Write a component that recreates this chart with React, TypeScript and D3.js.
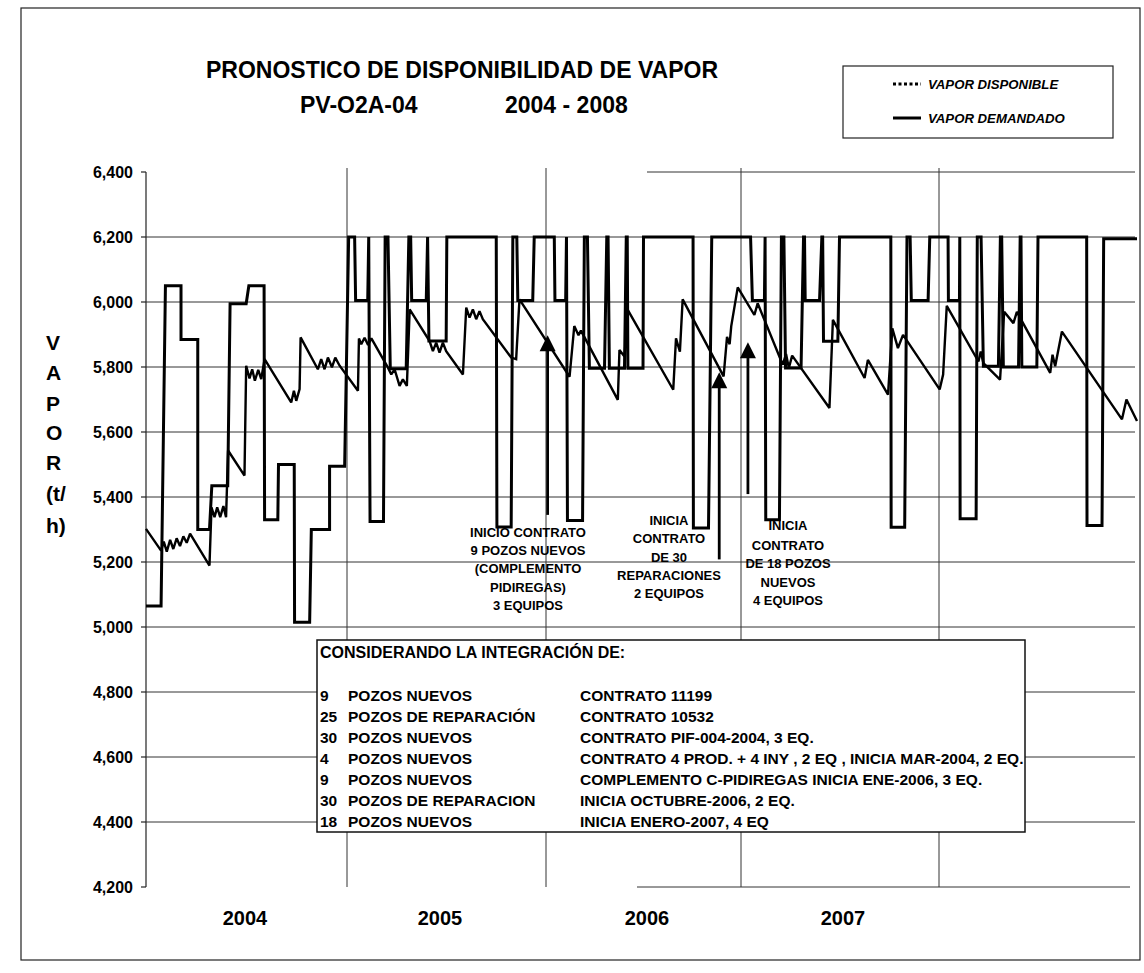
import React from 'react';
import * as d3 from 'd3';

// ---------- data ----------
const yTicks = [4200, 4400, 4600, 4800, 5000, 5200, 5400, 5600, 5800, 6000, 6200, 6400];
const yearBreaks = [0, 12, 24, 36, 48, 60]; // months since Jan-2004
const yearLabels = ['2004', '2005', '2006', '2007'];

// VAPOR DISPONIBLE  [month, t/h]
const disponible: [number, number][] = [
  [0, 5065], [0.9, 5065], [1.16, 6050], [2.09, 6050], [2.09, 5885], [3.09, 5885], [3.09, 5300], [3.79, 5300],
  [3.93, 5435], [4.88, 5435], [5.02, 5995], [5.98, 5995], [6.14, 6050], [7.05, 6050], [7.08, 5330], [7.87, 5330],
  [7.91, 5500], [8.85, 5500], [8.87, 5015], [9.77, 5015], [9.87, 5300], [10.96, 5300], [10.96, 5495], [11.86, 5495],
  [12.1, 6200], [12.46, 6200], [12.52, 6005], [13.25, 6005], [13.31, 6200], [13.39, 5325], [14.2, 5325], [14.3, 6200],
  [14.47, 6200], [14.61, 5795], [15.57, 5795], [15.73, 6200], [15.84, 6200], [15.9, 6005], [16.78, 6005], [16.86, 6200],
  [16.94, 5880], [17.98, 5880], [18.02, 6200], [21.0, 6200], [21.04, 5308], [21.9, 5308], [22.0, 6200], [22.24, 6200],
  [22.3, 6005], [23.2, 6005], [23.29, 6200], [24.51, 6200], [24.55, 6005], [25.21, 6005], [25.26, 6200], [25.32, 5328],
  [26.25, 5328], [26.36, 6200], [26.55, 6200], [26.67, 5796], [27.6, 5796], [27.74, 6200], [27.82, 6200], [27.9, 5796],
  [28.83, 5796], [28.94, 6200], [29.0, 6200], [29.04, 5796], [29.97, 5796], [30.0, 6200], [33.05, 6200], [33.07, 5305],
  [34.0, 5305], [34.2, 6200], [36.58, 6200], [36.69, 6005], [37.42, 6005], [37.46, 6200], [37.5, 5330], [38.33, 5330],
  [38.45, 6200], [38.6, 6200], [38.7, 5797], [39.64, 5797], [39.79, 6200], [39.85, 6200], [39.89, 6005], [40.76, 6005],
  [40.9, 6200], [40.95, 6200], [41.0, 5879], [41.87, 5879], [41.97, 6200], [45.08, 6200], [45.1, 5307], [45.92, 5307],
  [46.06, 6200], [46.25, 6200], [46.32, 6005], [47.34, 6005], [47.44, 6200], [48.55, 6200], [48.57, 6005], [49.24, 6005],
  [49.26, 6200], [49.28, 5333], [50.25, 5333], [50.32, 6200], [50.55, 6200], [50.69, 5802], [51.6, 5802], [51.72, 6200],
  [51.8, 6200], [51.9, 5800], [52.82, 5800], [52.92, 6200], [52.97, 6200], [53.02, 5800], [53.93, 5800], [54.0, 6200],
  [56.95, 6200], [56.97, 5312], [57.88, 5312], [57.98, 6195], [60, 6195],
];

// VAPOR DEMANDADO  [month, t/h]
const demandado: [number, number][] = [
  [0, 5302], [0.9, 5235], [1.06, 5263], [1.24, 5232], [1.44, 5268], [1.63, 5240], [1.83, 5273], [2.03, 5249],
  [2.23, 5279], [2.43, 5259], [2.63, 5287], [3.79, 5189], [3.91, 5368], [4.09, 5338], [4.25, 5368], [4.43, 5338],
  [4.62, 5372], [4.78, 5338], [4.9, 5543], [5.88, 5466], [5.98, 5804], [6.18, 5765], [6.34, 5793], [6.5, 5758],
  [6.7, 5791], [6.88, 5763], [7.08, 5824], [8.67, 5691], [8.83, 5727], [8.97, 5696], [9.17, 5732], [9.23, 5891],
  [10.26, 5793], [10.46, 5824], [10.66, 5793], [10.86, 5829], [11.1, 5799], [11.3, 5829], [11.56, 5804], [12.66, 5727],
  [12.72, 5888], [12.86, 5870], [13.06, 5890], [13.27, 5868], [13.47, 5888], [14.47, 5798], [14.67, 5777], [14.87, 5793],
  [15.17, 5742], [15.37, 5762], [15.61, 5742], [15.78, 5977], [16.98, 5880], [17.18, 5849], [17.38, 5875], [17.58, 5844],
  [17.78, 5875], [17.98, 5849], [18.99, 5777], [19.19, 5983], [19.39, 5952], [19.59, 5977], [19.79, 5947], [19.99, 5972],
  [20.19, 5947], [21.9, 5829], [22.2, 5824], [22.4, 6008], [25.45, 5770], [25.74, 5926], [26.0, 5898], [26.15, 5912],
  [28.42, 5699], [28.52, 5852], [28.83, 5832], [29.04, 5975], [31.83, 5730], [32.0, 5888], [32.24, 5847], [32.41, 6008],
  [34.93, 5771], [35.14, 5893], [35.3, 5870], [35.4, 5926], [35.8, 6045], [36.81, 5960], [37.01, 5996], [38.53, 5807],
  [38.73, 5840], [38.9, 5797], [39.1, 5835], [41.36, 5674], [41.57, 5945], [43.49, 5766], [43.69, 5822], [44.91, 5715],
  [45.17, 5919], [45.51, 5858], [45.82, 5899], [48.04, 5731], [48.25, 5777], [48.47, 5988], [50.39, 5817], [50.53, 5848],
  [50.69, 5812], [51.7, 5761], [51.95, 5970], [52.51, 5935], [52.72, 5970], [54.74, 5782], [54.88, 5838], [55.04, 5802],
  [55.45, 5909], [59.09, 5639], [59.36, 5700], [60, 5634],
];

// arrows: month, bottom value, tip value
const arrowMonths = [24.1, 34.66, 36.42];
const arrowBottoms = [5345, 5208, 5409];
const arrowTips = [5898, 5784, 5876];

const annot1 = ['INICIO CONTRATO', '9 POZOS NUEVOS', '(COMPLEMENTO', 'PIDIREGAS)', '3 EQUIPOS'];
const annot2 = ['INICIA', 'CONTRATO', 'DE 30', 'REPARACIONES', '2 EQUIPOS'];
const annot3 = ['INICIA', 'CONTRATO', 'DE 18 POZOS', 'NUEVOS', '4 EQUIPOS'];

const boxTitle = 'CONSIDERANDO LA INTEGRACIÓN DE:';
const boxNums = ['9', '25', '30', '4', '9', '30', '18'];
const boxKinds = ['POZOS NUEVOS', 'POZOS DE REPARACIÓN', 'POZOS NUEVOS', 'POZOS NUEVOS', 'POZOS NUEVOS', 'POZOS DE REPARACION', 'POZOS NUEVOS'];
const boxContracts = [
  'CONTRATO 11199',
  'CONTRATO 10532',
  'CONTRATO PIF-004-2004, 3 EQ.',
  'CONTRATO 4 PROD. + 4 INY , 2 EQ , INICIA MAR-2004, 2 EQ.',
  'COMPLEMENTO C-PIDIREGAS INICIA ENE-2006, 3 EQ.',
  'INICIA OCTUBRE-2006, 2 EQ.',
  'INICIA ENERO-2007, 4 EQ',
];

const yLabelChars = ['V', 'A', 'P', 'O', 'R', '(t/', 'h)'];

// ---------- component ----------
export default function App() {
  const x = d3.scaleLinear().domain(yearBreaks).range([146, 347, 546, 741, 939, 1137]);
  const y = d3.scaleLinear().domain([4200, 6400]).range([887, 172]);
  const line = d3.line<[number, number]>().x(d => x(d[0])).y(d => y(d[1]));
  const fmt = d3.format(',');
  const font = 'Arial, "Liberation Sans", Helvetica, sans-serif';
  const x0 = 146;
  const xEnd = 1135;

  const boxX = 317, boxY = 640, boxW = 708, boxH = 192;

  return (
    <svg width={1144} height={973} style={{ position: 'absolute', left: 0, top: 0, background: '#fff' }} fontFamily={font}>
      <rect x={0} y={0} width={1144} height={973} fill="#fff" />
      {/* outer frame */}
      <rect x={21} y={8} width={1119} height={952} fill="none" stroke="#222" strokeWidth={1.2} />

      {/* title */}
      <text x={462} y={78} textAnchor="middle" fontSize={23} fontWeight="bold">PRONOSTICO DE DISPONIBILIDAD DE VAPOR</text>
      <text x={300} y={113} fontSize={23} fontWeight="bold">PV-O2A-04</text>
      <text x={505} y={113} fontSize={23} fontWeight="bold">2004 - 2008</text>

      {/* legend */}
      <rect x={843} y={66} width={270} height={72} fill="#fff" stroke="#222" strokeWidth={1.2} />
      <line x1={893} x2={921} y1={84} y2={84} stroke="#000" strokeWidth={3} strokeDasharray="3,2.5" />
      <text x={928} y={88.5} fontSize={13.2} fontWeight="bold" fontStyle="italic">VAPOR DISPONIBLE</text>
      <line x1={893} x2={921} y1={118} y2={118} stroke="#000" strokeWidth={3} />
      <text x={928} y={122.5} fontSize={13.2} fontWeight="bold" fontStyle="italic">VAPOR DEMANDADO</text>

      {/* y axis label */}
      {yLabelChars.map((c, i) => (
        <text key={c + i} x={46} y={[342, 372, 403, 432, 462, 493, 525][i] + 7.5} fontSize={21} fontWeight="bold">{c}</text>
      ))}

      {/* gridlines */}
      {yTicks.filter(t => t !== 6400 && t !== 4200).map(t => (
        <line key={t} x1={x0} x2={xEnd} y1={y(t)} y2={y(t)} stroke="#333" strokeWidth={1} />
      ))}
      <line x1={647} x2={xEnd} y1={y(6400)} y2={y(6400)} stroke="#333" strokeWidth={1} />
      <line x1={637} x2={1130} y1={y(4200)} y2={y(4200)} stroke="#333" strokeWidth={1} />
      {yearBreaks.slice(1, 5).map(m => (
        <line key={m} x1={x(m)} x2={x(m)} y1={y(6400) - 4} y2={y(4200)} stroke="#333" strokeWidth={1} />
      ))}
      {/* y axis */}
      <line x1={x0} x2={x0} y1={y(6400)} y2={y(4200)} stroke="#222" strokeWidth={1.2} />
      {yTicks.map(t => (
        <g key={t}>
          <line x1={x0 - 5} x2={x0} y1={y(t)} y2={y(t)} stroke="#222" strokeWidth={1.2} />
          <text x={133} y={y(t) + 5.5} textAnchor="end" fontSize={16} fontWeight="bold">{fmt(t)}</text>
        </g>
      ))}

      {/* year labels */}
      {yearLabels.map((l, i) => (
        <text key={l} x={[245, 440, 647, 843][i]} y={925} textAnchor="middle" fontSize={20} fontWeight="bold">{l}</text>
      ))}

      {/* series */}
      <path d={line(demandado) || ''} fill="none" stroke="#000" strokeWidth={2.4} strokeLinejoin="miter" strokeMiterlimit={2} />
      <path d={line(disponible) || ''} fill="none" stroke="#000" strokeWidth={3} strokeLinejoin="miter" strokeMiterlimit={2} />

      {/* arrows */}
      {arrowMonths.map((m, i) => {
        const ax = x(m);
        const tip = y(arrowTips[i]);
        const bot = y(arrowBottoms[i]);
        return (
          <g key={m}>
            <line x1={ax} x2={ax} y1={bot} y2={tip + 12} stroke="#000" strokeWidth={2.8} />
            <path d={`M${ax},${tip} L${ax - 8},${tip + 16} L${ax + 8},${tip + 16} Z`} fill="#000" />
          </g>
        );
      })}

      {/* annotations */}
      {annot1.map((t, i) => (
        <text key={'a1' + i} x={528} y={[532, 550, 568, 587, 605][i] + 4.5} textAnchor="middle" fontSize={13} fontWeight="bold">{t}</text>
      ))}
      {annot2.map((t, i) => (
        <text key={'a2' + i} x={669} y={[520, 538, 557, 575, 593][i] + 4.5} textAnchor="middle" fontSize={13} fontWeight="bold">{t}</text>
      ))}
      {annot3.map((t, i) => (
        <text key={'a3' + i} x={788} y={[525, 545, 563, 582, 600][i] + 4.5} textAnchor="middle" fontSize={13} fontWeight="bold">{t}</text>
      ))}

      {/* info box */}
      <rect x={boxX} y={boxY} width={boxW} height={boxH} fill="#fff" stroke="#111" strokeWidth={1.5} />
      <text x={320} y={657.5} fontSize={16} fontWeight="bold">{boxTitle}</text>
      {boxNums.map((n, i) => {
        const ty = 695 + i * 21 + 5.5;
        return (
          <g key={'r' + i}>
            <text x={320} y={ty} fontSize={15.5} fontWeight="bold">{n}</text>
            <text x={348} y={ty} fontSize={15.5} fontWeight="bold">{boxKinds[i]}</text>
            <text x={580} y={ty} fontSize={15.5} fontWeight="bold">{boxContracts[i]}</text>
          </g>
        );
      })}
    </svg>
  );
}
